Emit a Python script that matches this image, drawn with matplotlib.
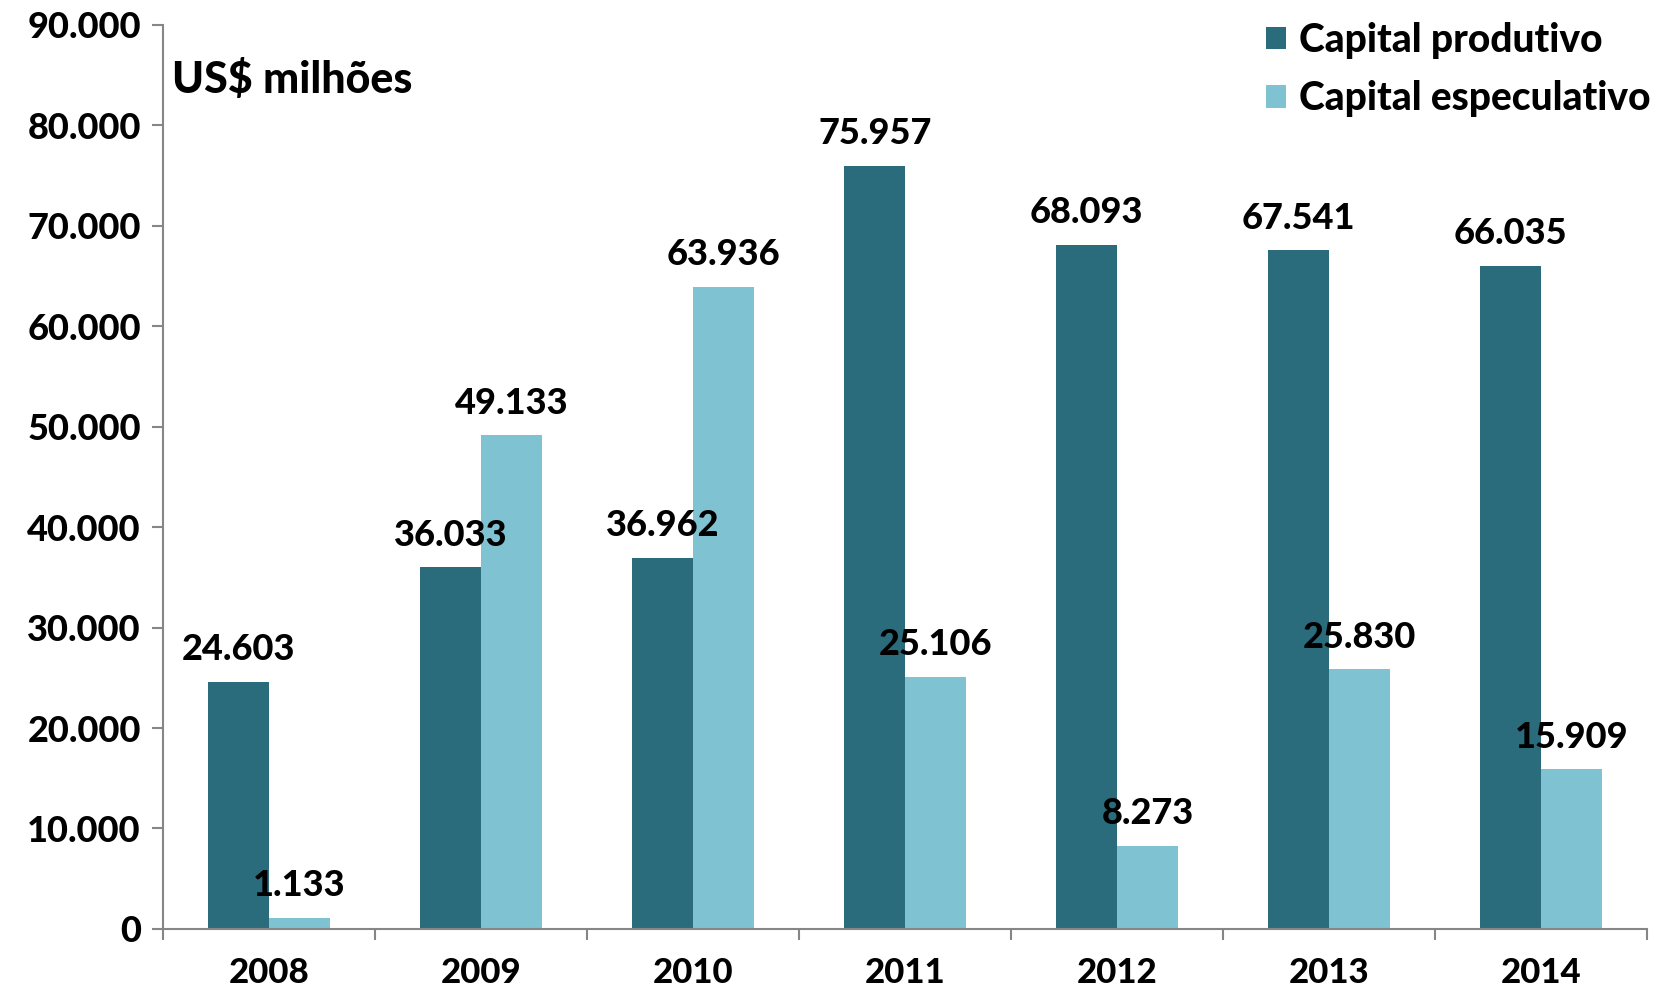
import numpy as np
import matplotlib
matplotlib.use('Agg')
import matplotlib.pyplot as plt
from matplotlib.ticker import FixedLocator, NullFormatter

plt.rcParams['font.family'] = ['Lato', 'DejaVu Sans']
plt.rcParams['font.weight'] = 'black'

years = ['2008', '2009', '2010', '2011', '2012', '2013', '2014']
produtivo = [24603, 36033, 36962, 75957, 68093, 67541, 66035]
especulativo = [1133, 49133, 63936, 25106, 8273, 25830, 15909]
yticks = [0, 10000, 20000, 30000, 40000, 50000, 60000, 70000, 80000, 90000]

dark = '#2a6c7c'
light = '#7fc3d3'
axis_grey = '#868686'
W = 'black'


def fmt(v):
    # thousands separator with a dot, as in the original
    return f'{v:,}'.replace(',', '.')


fig = plt.figure(figsize=(16.64, 9.93), dpi=100)
ax = fig.add_axes([0.098, 0.0645, 0.892, 0.9105])

x = np.arange(len(years))
w = 0.287
b1 = ax.bar(x - w / 2, produtivo, w, color=dark, label='Capital produtivo')
b2 = ax.bar(x + w / 2, especulativo, w, color=light, label='Capital especulativo')

for bars, vals in ((b1, produtivo), (b2, especulativo)):
    for rect, v in zip(bars, vals):
        ax.annotate(fmt(v), (rect.get_x() + rect.get_width() / 2, v),
                    xytext=(0, 23), textcoords='offset points',
                    ha='center', va='center', fontsize=26, fontweight=W)

ax.set_xlim(-0.5, len(years) - 0.5)
ax.set_ylim(0, 90000)
ax.set_yticks(yticks)
ax.set_yticklabels([fmt(t) for t in yticks])

ax.set_xticks(x)
ax.set_xticklabels(years)
ax.xaxis.set_minor_locator(FixedLocator(np.arange(-0.5, len(years), 1.0)))
ax.xaxis.set_minor_formatter(NullFormatter())
ax.tick_params(axis='x', which='major', length=0, pad=20, labelsize=25)
ax.tick_params(axis='x', which='minor', length=8, width=1.5, color=axis_grey)
ax.tick_params(axis='y', length=8, width=1.5, color=axis_grey, labelsize=26, pad=8)
for lab in ax.get_xticklabels() + ax.get_yticklabels():
    lab.set_fontweight(W)

for s in ['top', 'right']:
    ax.spines[s].set_visible(False)
for s in ['left', 'bottom']:
    ax.spines[s].set_color(axis_grey)
    ax.spines[s].set_linewidth(1.5)

ax.text(0.006, 0.94, 'US$ milhões', transform=ax.transAxes, fontsize=31,
        fontweight=W, ha='left', va='center')

leg = ax.legend(loc='upper right', bbox_to_anchor=(1.026, 1.042), frameon=False,
                prop={'size': 28, 'weight': W}, handlelength=0.5,
                handleheight=0.5, handletextpad=0.35, labelspacing=0.55)

fig.savefig('out.png', dpi=100)
